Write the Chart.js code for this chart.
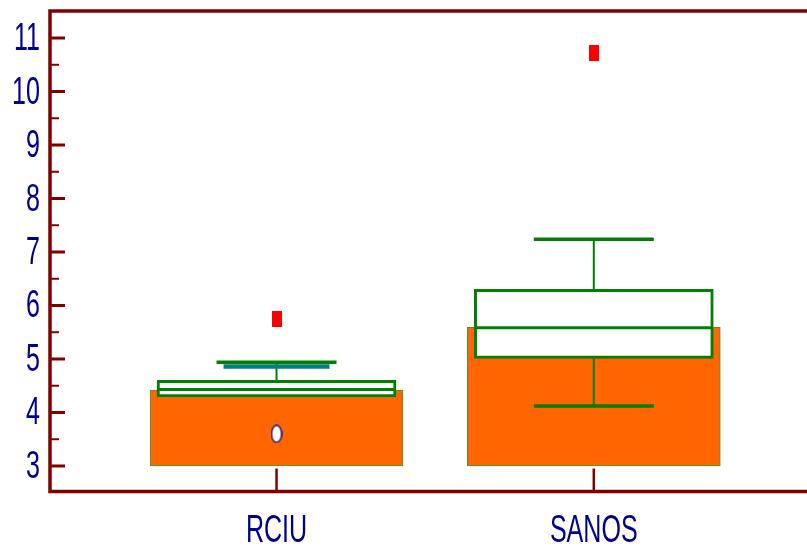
<!DOCTYPE html>
<html>
<head>
<meta charset="utf-8">
<script src="https://cdn.jsdelivr.net/npm/chart.js@4/dist/chart.umd.min.js"></script>
<style>
  html, body { margin: 0; padding: 0; background: #fff; }
  #wrap { width: 807px; height: 548px; }
</style>
</head>
<body>
<div id="wrap"><canvas id="chart" width="807" height="548"></canvas></div>
<script>
// chart values
const categories = ['RCIU', 'SANOS'];
const barBase = 3;
const barMeans = [4.42, 5.59];
const boxQ1 = [4.29, 5.01];
const boxQ3 = [4.60, 6.30];
const medians = [4.43, 5.585];
const whiskerLow = [null, 4.12];
const whiskerHigh = [4.94, 7.24];
const tealMarks = [4.86, null];
const farOutliers = [5.75, 10.72];
const nearOutliers = [3.60, null];
const yTicks = [3, 4, 5, 6, 7, 8, 9, 10, 11];
const yMinorTicks = [3.5, 4.5, 5.5, 6.5, 7.5, 8.5, 9.5, 10.5];

const GREEN = '#008000';
const AXIS = '#800000';
const LABEL = '#00008f';

// x position of each category on the linear axis
const xPos = categories.map((c, i) => i + 1);

function markerImage(w, h, draw) {
    const c = document.createElement('canvas');
    c.width = w; c.height = h;
    draw(c.getContext('2d'), w, h);
    return c;
}
const redSquare = markerImage(10, 16, (g, w, h) => {
    g.fillStyle = '#ff0000';
    g.fillRect(0, 0, w, h);
});
const whiteOval = markerImage(12, 19, (g, w, h) => {
    g.beginPath();
    g.ellipse(w / 2, h / 2, w / 2 - 1, h / 2 - 1, 0, 0, Math.PI * 2);
    g.fillStyle = '#fff';
    g.fill();
    g.lineWidth = 1.5;
    g.strokeStyle = '#1a1a8c';
    g.stroke();
});

const pts = (arr) => arr.map((v, i) => ({ x: xPos[i], y: v })).filter(p => p.y !== null);

const datasets = [];

// orange bars (mean)
datasets.push({
    type: 'bar',
    data: barMeans.map((v, i) => ({ x: xPos[i], y: [barBase, v] })),
    backgroundColor: '#ff6600',
    borderColor: '#3a9a3a',
    borderWidth: 1,
    borderSkipped: false,
    barThickness: 253,
    grouped: false,
    order: 10
});

// boxes
datasets.push({
    type: 'bar',
    data: boxQ1.map((v, i) => ({ x: xPos[i], y: [v, boxQ3[i]] })),
    backgroundColor: '#ffffff',
    borderColor: GREEN,
    borderWidth: 3,
    borderSkipped: false,
    barThickness: 239,
    grouped: false,
    order: 8
});

// whiskers
categories.forEach((c, i) => {
    if (whiskerHigh[i] !== null) {
        datasets.push({
            type: 'line',
            data: [{ x: xPos[i], y: boxQ3[i] }, { x: xPos[i], y: whiskerHigh[i] }],
            borderColor: GREEN, borderWidth: 2, pointRadius: 0, order: 6
        });
    }
    if (whiskerLow[i] !== null) {
        datasets.push({
            type: 'line',
            data: [{ x: xPos[i], y: boxQ1[i] }, { x: xPos[i], y: whiskerLow[i] }],
            borderColor: GREEN, borderWidth: 2, pointRadius: 0, order: 6
        });
    }
});

// teal marks
datasets.push({
    type: 'scatter',
    data: pts(tealMarks),
    pointStyle: 'line', pointRadius: 53,
    borderColor: '#007f7f', borderWidth: 4.5, order: 5
});

// whisker caps
datasets.push({
    type: 'scatter',
    data: pts(whiskerHigh).concat(pts(whiskerLow)),
    pointStyle: 'line', pointRadius: 60,
    borderColor: GREEN, borderWidth: 3.5, order: 4
});

// medians
datasets.push({
    type: 'scatter',
    data: pts(medians),
    pointStyle: 'line', pointRadius: 118,
    borderColor: GREEN, borderWidth: 3, order: 3
});

// outliers
datasets.push({
    type: 'scatter',
    data: pts(farOutliers),
    pointStyle: redSquare, order: 1
});
datasets.push({
    type: 'scatter',
    data: pts(nearOutliers),
    pointStyle: whiteOval, order: 1
});

// axes, ticks and labels drawn through the chart scales
const axesPlugin = {
    id: 'axesPlugin',
    afterDatasetsDraw(chart) {
        const { ctx, chartArea: a, scales: { x, y } } = chart;
        ctx.save();
        ctx.strokeStyle = AXIS;
        ctx.lineCap = 'butt';

        // frame lines
        ctx.lineWidth = 3.5;
        ctx.beginPath();
        ctx.moveTo(a.left, a.top); ctx.lineTo(a.right, a.top);
        ctx.moveTo(a.left, a.bottom); ctx.lineTo(a.right, a.bottom);
        ctx.moveTo(a.left, a.top - 1.75); ctx.lineTo(a.left, a.bottom + 1.75);
        ctx.stroke();

        // y ticks
        ctx.lineWidth = 3;
        yTicks.forEach(v => {
            const py = y.getPixelForValue(v);
            ctx.beginPath();
            ctx.moveTo(a.left, py); ctx.lineTo(a.left + 15, py);
            ctx.stroke();
        });
        ctx.lineWidth = 2;
        yMinorTicks.forEach(v => {
            const py = y.getPixelForValue(v);
            ctx.beginPath();
            ctx.moveTo(a.left, py); ctx.lineTo(a.left + 9, py);
            ctx.stroke();
        });

        // x ticks
        ctx.lineWidth = 2.5;
        xPos.forEach(v => {
            const px = x.getPixelForValue(v);
            ctx.beginPath();
            ctx.moveTo(px, a.bottom); ctx.lineTo(px, a.bottom - 23);
            ctx.stroke();
        });

        // labels (narrow, tall lettering)
        ctx.fillStyle = LABEL;
        ctx.font = '38px "Liberation Sans", Arial, sans-serif';
        ctx.textBaseline = 'alphabetic';
        const squeeze = 0.66;
        ctx.textAlign = 'right';
        yTicks.forEach(v => {
            const py = y.getPixelForValue(v);
            ctx.save();
            ctx.translate(a.left - 10, py + 12);
            ctx.scale(squeeze, 1);
            ctx.fillText(String(v), 0, 0);
            ctx.restore();
        });
        ctx.textAlign = 'center';
        categories.forEach((c, i) => {
            const px = x.getPixelForValue(xPos[i]);
            ctx.save();
            ctx.translate(px, 542);
            ctx.scale(squeeze, 1);
            ctx.fillText(c, 0, 0);
            ctx.restore();
        });
        ctx.restore();
    }
};

new Chart(document.getElementById('chart').getContext('2d'), {
    data: { datasets: datasets },
    options: {
        responsive: false,
        animation: false,
        devicePixelRatio: 1,
        layout: { autoPadding: false, padding: { left: 50, top: 11, right: 0, bottom: 56.5 } },
        plugins: { legend: { display: false }, tooltip: { enabled: false } },
        scales: {
            x: { type: 'linear', min: 0.286, max: 2.672, offset: false, display: false },
            y: { type: 'linear', min: 2.523, max: 11.505, display: false }
        }
    },
    plugins: [axesPlugin]
});
</script>
</body>
</html>
